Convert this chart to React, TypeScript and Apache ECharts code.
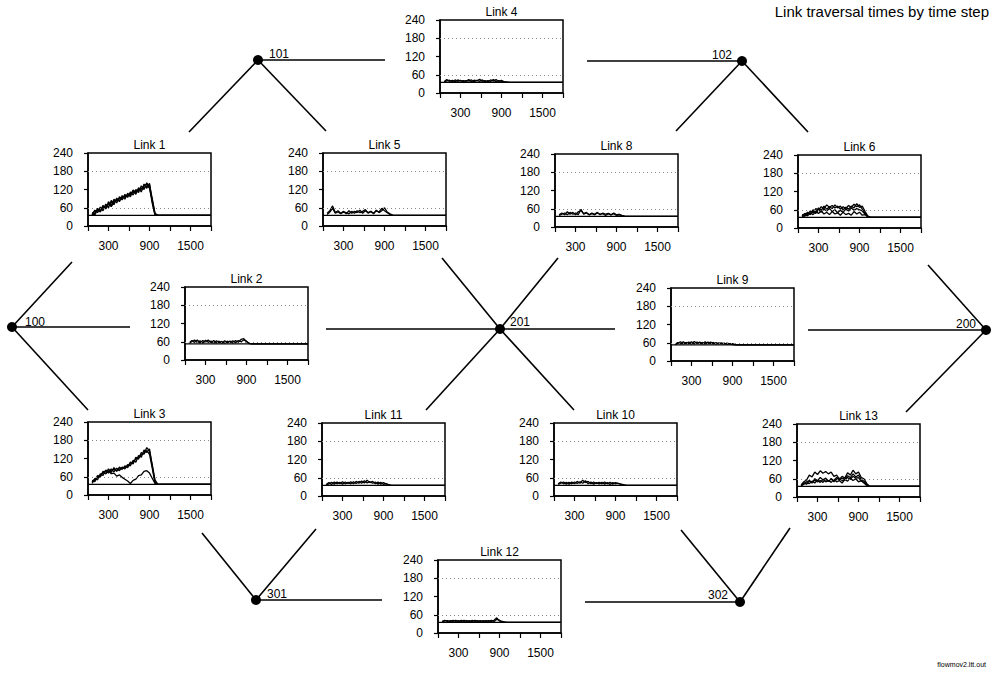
import React, { useEffect, useRef } from "react";
import * as echarts from "echarts";

// Shared time steps (x values) for every run
const TIME = [60, 100, 140, 180, 220, 260, 300, 340, 380, 420, 460, 500, 540, 580, 620, 660, 700, 740, 780, 820, 860, 900, 940, 980, 1020, 1060, 1800];

// Tick labels
const X_LABELS = [300, 900, 1500];
const Y_TICKS = [0, 60, 120, 180, 240];
const GRID_LINES = [60, 180];

// Link 1 runs
const L1_A = [38, 52, 44, 62, 50, 72, 60, 84, 70, 92, 80, 100, 88, 108, 96, 116, 104, 126, 112, 138, 124, 140, 80, 38, 35, 35, 35];
const L1_B = [44, 40, 58, 48, 68, 56, 80, 66, 88, 76, 96, 86, 104, 94, 112, 102, 120, 110, 132, 120, 142, 128, 75, 36, 35, 35, 35];
const L1_C = [36, 48, 50, 56, 60, 66, 70, 76, 82, 84, 90, 94, 98, 102, 106, 110, 114, 118, 124, 128, 130, 136, 90, 42, 35, 35, 35];
const L1_D = [40, 36, 54, 46, 64, 58, 74, 64, 78, 88, 84, 92, 96, 100, 102, 118, 110, 122, 120, 134, 136, 124, 85, 40, 35, 35, 35];
// Link 2
const L2_A = [56, 64, 58, 66, 56, 64, 58, 66, 57, 64, 56, 62, 55, 63, 57, 62, 56, 64, 58, 68, 70, 60, 55, 53, 53, 53, 53];
const L2_B = [55, 60, 66, 57, 63, 56, 65, 58, 62, 56, 63, 57, 61, 55, 62, 58, 63, 57, 64, 60, 66, 62, 54, 53, 53, 53, 53];
// Link 3
const L3_A = [42, 54, 50, 70, 64, 82, 72, 86, 76, 88, 80, 92, 86, 100, 96, 114, 108, 130, 124, 148, 140, 152, 95, 45, 35, 35, 35];
const L3_B = [48, 44, 64, 58, 78, 70, 86, 74, 90, 78, 92, 84, 96, 90, 108, 102, 124, 118, 140, 134, 156, 144, 100, 50, 36, 35, 35];
const L3_C = [38, 52, 58, 66, 72, 80, 76, 82, 84, 80, 86, 88, 92, 96, 102, 108, 118, 124, 132, 138, 146, 134, 88, 40, 35, 35, 35];
const L3_D = [44, 50, 60, 64, 74, 70, 80, 70, 72, 62, 66, 58, 52, 46, 38, 48, 52, 64, 66, 78, 80, 72, 55, 38, 35, 35, 35];
// Link 4
const L4_A = [38, 44, 38, 42, 37, 43, 39, 41, 38, 44, 37, 42, 40, 45, 38, 41, 37, 43, 39, 44, 38, 42, 37, 36, 35, 35, 35];
const L4_B = [36, 40, 42, 37, 43, 38, 42, 37, 41, 39, 43, 37, 42, 38, 43, 37, 41, 38, 44, 37, 41, 38, 36, 36, 35, 35, 35];
// Link 5
const L5_A = [42, 50, 66, 44, 50, 42, 48, 40, 50, 42, 48, 44, 52, 42, 50, 44, 48, 42, 50, 46, 58, 50, 44, 38, 35, 35, 35];
const L5_B = [38, 46, 58, 42, 46, 40, 46, 44, 40, 48, 42, 50, 44, 48, 54, 42, 48, 40, 52, 44, 50, 60, 46, 40, 36, 35, 35];
// Link 6
const L6_A = [40, 48, 44, 56, 50, 64, 58, 70, 64, 76, 68, 74, 66, 72, 62, 70, 64, 74, 68, 78, 70, 76, 62, 50, 38, 35, 35];
const L6_B = [44, 38, 52, 46, 60, 52, 66, 58, 72, 62, 70, 64, 76, 66, 72, 60, 68, 62, 72, 66, 80, 68, 72, 55, 40, 35, 35];
const L6_C = [36, 44, 40, 50, 44, 54, 48, 56, 46, 52, 44, 54, 46, 50, 42, 52, 44, 48, 42, 54, 46, 52, 42, 44, 36, 35, 35];
const L6_D = [38, 42, 50, 44, 56, 48, 60, 52, 62, 56, 64, 54, 60, 50, 58, 52, 62, 56, 66, 58, 64, 60, 56, 46, 38, 35, 35];
// Link 8
const L8_A = [40, 46, 40, 50, 42, 48, 40, 50, 54, 44, 48, 40, 46, 42, 48, 40, 46, 42, 45, 40, 46, 40, 42, 38, 36, 35, 35];
const L8_B = [38, 42, 46, 40, 48, 42, 46, 40, 58, 42, 46, 40, 44, 40, 46, 42, 44, 38, 44, 40, 44, 38, 40, 37, 35, 35, 35];
// Link 9
const L9_A = [55, 61, 56, 63, 57, 62, 56, 64, 58, 62, 56, 63, 57, 62, 56, 61, 56, 60, 55, 59, 56, 57, 54, 53, 53, 53, 53];
const L9_B = [54, 58, 63, 56, 61, 57, 63, 56, 62, 57, 61, 56, 62, 57, 61, 55, 60, 56, 59, 55, 57, 54, 53, 53, 53, 53, 53];
// Link 10
const L10_A = [40, 46, 40, 45, 39, 46, 40, 48, 42, 52, 44, 48, 40, 46, 41, 45, 40, 46, 40, 45, 39, 44, 41, 39, 37, 35, 35];
const L10_B = [38, 42, 46, 39, 45, 40, 46, 41, 47, 42, 50, 40, 46, 39, 44, 40, 45, 39, 44, 38, 44, 40, 42, 38, 36, 35, 35];
// Link 11
const L11_A = [38, 44, 38, 46, 40, 45, 39, 46, 41, 47, 40, 48, 42, 49, 43, 52, 44, 48, 40, 46, 39, 44, 39, 37, 35, 35, 35];
const L11_B = [36, 40, 45, 39, 46, 40, 47, 40, 45, 40, 47, 41, 48, 42, 50, 43, 47, 42, 46, 39, 45, 38, 41, 36, 35, 35, 35];
// Link 12
const L12_A = [38, 42, 37, 41, 38, 42, 37, 42, 38, 41, 37, 42, 38, 41, 37, 41, 38, 41, 37, 42, 50, 39, 38, 36, 35, 35, 35];
const L12_B = [36, 40, 41, 37, 42, 38, 41, 37, 42, 38, 41, 37, 42, 38, 41, 37, 41, 38, 42, 38, 45, 42, 37, 36, 35, 35, 35];
// Link 13
const L13_A = [40, 50, 56, 72, 66, 82, 74, 86, 78, 84, 76, 82, 68, 72, 58, 68, 62, 80, 72, 88, 76, 82, 64, 60, 45, 35, 35];
const L13_B = [38, 44, 50, 54, 48, 60, 54, 64, 56, 62, 52, 60, 54, 64, 56, 62, 58, 70, 64, 76, 66, 72, 58, 52, 42, 35, 35];
const L13_C = [36, 42, 46, 44, 52, 46, 56, 48, 58, 50, 54, 48, 58, 50, 54, 46, 58, 52, 62, 54, 60, 50, 54, 46, 38, 35, 35];
const L13_D = [38, 46, 42, 52, 46, 56, 50, 54, 48, 58, 52, 60, 50, 58, 62, 54, 56, 64, 58, 68, 62, 64, 52, 48, 40, 35, 35];

// Panel names, their runs and free-flow times
const LINK_NAMES = ["Link 1", "Link 2", "Link 3", "Link 4", "Link 5", "Link 6", "Link 8", "Link 9", "Link 10", "Link 11", "Link 12", "Link 13"];
const LINK_RUNS = [
  [L1_A, L1_B, L1_C, L1_D],
  [L2_A, L2_B],
  [L3_A, L3_B, L3_C, L3_D],
  [L4_A, L4_B],
  [L5_A, L5_B],
  [L6_A, L6_B, L6_C, L6_D],
  [L8_A, L8_B],
  [L9_A, L9_B],
  [L10_A, L10_B],
  [L11_A, L11_B],
  [L12_A, L12_B],
  [L13_A, L13_B, L13_C, L13_D],
];
const FREE_FLOW = [35, 53, 35, 35, 35, 35, 35, 53, 35, 35, 35, 35];

// Network nodes
const NODE_NAMES = ["100", "101", "102", "200", "201", "301", "302"];

// ---- layout (positions only) ----
const PW = 123;
const PH = 73;
const PANEL_POS = [
  [88, 153], [185, 287], [88, 422], [440, 20], [323, 153], [798, 155],
  [555, 154], [671, 288], [554, 423], [322, 423], [438, 560], [797, 424],
];
const NODE_POS: Record<string, number[]> = {
  "100": [12, 327], "101": [258, 60], "102": [742, 61], "200": [986, 330],
  "201": [500, 329], "301": [256, 600], "302": [740, 602],
};
const NODE_LABEL_POS: Record<string, number[]> = {
  "100": [35, 322], "101": [279, 54], "102": [722, 55], "200": [966, 324],
  "201": [520, 322], "301": [277, 594], "302": [718, 595],
};
const EDGES = [
  ["100", 130, 327], ["100", 72, 262], ["100", 88, 410],
  ["101", 385, 60], ["101", 189, 132], ["101", 326, 131],
  ["102", 587, 61], ["102", 676, 131], ["102", 808, 132],
  ["200", 808, 330], ["200", 928, 265], ["200", 906, 412],
  ["201", 326, 329], ["201", 615, 329], ["201", 442, 258], ["201", 558, 258], ["201", 426, 410], ["201", 574, 410],
  ["301", 382, 600], ["301", 202, 533], ["301", 316, 529],
  ["302", 585, 602], ["302", 681, 530], ["302", 790, 528],
];

const FONT = "Liberation Sans, Arial, sans-serif";

export default function App() {
  const ref = useRef<HTMLDivElement>(null);
  useEffect(() => {
    if (!ref.current) return;
    const chart = echarts.init(ref.current, null, { renderer: "svg" });

    const grids = PANEL_POS.map(([l, t]) => ({
      left: l, top: t, width: PW, height: PH, show: true,
      borderColor: "#000", borderWidth: 1.5, backgroundColor: "transparent",
    }));
    const xAxes = PANEL_POS.map((_, i) => ({
      type: "value", gridIndex: i, min: 0, max: 1800, interval: 300,
      axisLine: { show: true, lineStyle: { color: "#000", width: 1.5 } },
      axisTick: { show: true, length: 5, lineStyle: { color: "#000", width: 1.2 } },
      axisLabel: {
        color: "#000", fontSize: 12, fontFamily: FONT, margin: 14,
        formatter: (v: number) => (X_LABELS.includes(v) ? String(v) : ""),
        showMinLabel: true, showMaxLabel: true,
      },
      splitLine: { show: false },
    }));
    const yAxes = PANEL_POS.map((_, i) => ({
      type: "value", gridIndex: i, min: Y_TICKS[0], max: Y_TICKS[Y_TICKS.length - 1], interval: 60,
      axisLine: { show: true, lineStyle: { color: "#000", width: 1.5 } },
      axisTick: { show: true, length: 4, lineStyle: { color: "#000", width: 1.2 } },
      axisLabel: { color: "#000", fontSize: 12, fontFamily: FONT, margin: 15 },
      splitLine: { show: false },
    }));

    const series: any[] = [];
    LINK_RUNS.forEach((runs, i) => {
      series.push({
        type: "line", xAxisIndex: i, yAxisIndex: i, silent: true,
        symbol: "none", data: [[0, FREE_FLOW[i]], [1800, FREE_FLOW[i]]],
        lineStyle: { color: "#000", width: 1.3 },
        markLine: {
          silent: true, symbol: "none", label: { show: false },
          lineStyle: { color: "#888", width: 1, type: [1, 3] },
          data: GRID_LINES.map((g) => ({ yAxis: g })),
        },
      });
      runs.forEach((r) => {
        series.push({
          type: "line", xAxisIndex: i, yAxisIndex: i, silent: true,
          symbol: "none", data: TIME.map((t, k) => [t, r[k]]),
          lineStyle: { color: "#000", width: 1.3 },
        });
      });
    });

    const graphics: any[] = [];
    EDGES.forEach(([n, x, y]) => {
      const p = NODE_POS[n as string];
      graphics.push({
        type: "line", silent: true,
        shape: { x1: p[0], y1: p[1], x2: x as number, y2: y as number },
        style: { stroke: "#000", lineWidth: 1.6 },
      });
    });
    NODE_NAMES.forEach((n) => {
      const p = NODE_POS[n];
      graphics.push({ type: "circle", silent: true, shape: { cx: p[0], cy: p[1], r: 5 }, style: { fill: "#000" } });
      const lp = NODE_LABEL_POS[n];
      graphics.push({
        type: "text", silent: true, x: lp[0], y: lp[1],
        style: { text: n, fill: "#000", font: `12px ${FONT}`, textAlign: "center", textVerticalAlign: "middle" },
      });
    });
    LINK_NAMES.forEach((name, i) => {
      const [l, t] = PANEL_POS[i];
      graphics.push({
        type: "text", silent: true, x: l + PW / 2, y: t - 8,
        style: { text: name, fill: "#000", font: `12px ${FONT}`, textAlign: "center", textVerticalAlign: "middle" },
      });
    });
    graphics.push({
      type: "text", silent: true, x: 989, y: 11,
      style: { text: "Link traversal times by time step", fill: "#000", font: `15px ${FONT}`, textAlign: "right", textVerticalAlign: "middle" },
    });
    graphics.push({
      type: "text", silent: true, x: 986, y: 664,
      style: { text: "flowmov2.ltt.out", fill: "#000", font: `7px ${FONT}`, textAlign: "right", textVerticalAlign: "middle" },
    });

    chart.setOption({
      animation: false,
      backgroundColor: "#fff",
      grid: grids,
      xAxis: xAxes,
      yAxis: yAxes,
      series,
      graphic: graphics,
    });
    return () => chart.dispose();
  }, []);
  return (
    <div
      ref={ref}
      style={{ position: "absolute", left: 0, top: 0, width: 997, height: 673, background: "#fff" }}
    />
  );
}
